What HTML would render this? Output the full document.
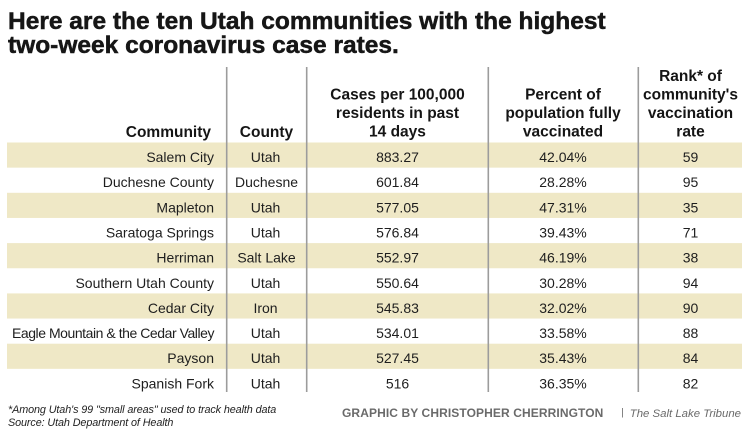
<!DOCTYPE html>
<html><head><meta charset="utf-8"><style>
html,body{margin:0;padding:0;background:#fff;}
svg{display:block;}
.t{font-family:"Liberation Sans",Arial,sans-serif;font-weight:bold;font-size:24.5px;fill:#161616;stroke:#161616;stroke-width:0.5px;}
.h{font-family:"Liberation Sans",Arial,sans-serif;font-weight:bold;font-size:15.5px;fill:#151515;}
.d{font-family:"Liberation Sans",Arial,sans-serif;font-size:14px;fill:#1e1e1e;}
.f{font-family:"Liberation Sans",Arial,sans-serif;font-style:italic;font-size:10.8px;fill:#222;letter-spacing:-0.1px;}
.g{font-family:"Liberation Sans",Arial,sans-serif;font-weight:bold;font-size:12px;fill:#6a6a6a;letter-spacing:0.1px;}
.s{font-family:"Liberation Sans",Arial,sans-serif;font-style:italic;font-size:11.4px;fill:#6a6a6a;}
</style></head><body>
<svg width="750" height="435" viewBox="0 0 750 435" xmlns="http://www.w3.org/2000/svg">
<rect width="750" height="435" fill="#fff"/>
<text class="t" x="8" y="29">Here are the ten Utah communities with the highest</text>
<text class="t" x="8" y="53">two-week coronavirus case rates.</text>

<!-- bands -->
<g fill="#efe8c6">
<rect x="7" y="142.5" width="735" height="25.15"/>
<rect x="7" y="192.8" width="735" height="25.15"/>
<rect x="7" y="243.1" width="735" height="25.15"/>
<rect x="7" y="293.4" width="735" height="25.15"/>
<rect x="7" y="343.7" width="735" height="25.15"/>
</g>

<!-- vertical lines -->
<g stroke="#9c9c9c" stroke-width="1.6">
<line x1="226.7" y1="67" x2="226.7" y2="392"/>
<line x1="306.7" y1="67" x2="306.7" y2="392"/>
<line x1="488.3" y1="67" x2="488.3" y2="392"/>
<line x1="638.3" y1="67" x2="638.3" y2="392"/>
</g>

<!-- headers -->
<text class="h" x="211" y="137" text-anchor="end">Community</text>
<text class="h" x="266.5" y="137" text-anchor="middle">County</text>
<text class="h" x="397.5" y="99.5" text-anchor="middle">Cases per 100,000</text>
<text class="h" x="397.5" y="118" text-anchor="middle">residents in past</text>
<text class="h" x="397.5" y="136.5" text-anchor="middle">14 days</text>
<text class="h" x="563" y="99.5" text-anchor="middle">Percent of</text>
<text class="h" x="563" y="118" text-anchor="middle">population fully</text>
<text class="h" x="563" y="136.5" text-anchor="middle">vaccinated</text>
<text class="h" x="690.5" y="81" text-anchor="middle">Rank* of</text>
<text class="h" x="690.5" y="99.5" text-anchor="middle">community's</text>
<text class="h" x="690.5" y="118" text-anchor="middle">vaccination</text>
<text class="h" x="690.5" y="136.5" text-anchor="middle">rate</text>

<!-- rows -->
<g class="d">
<text x="214" y="162" text-anchor="end">Salem City</text>
<text x="214" y="187.15" text-anchor="end">Duchesne County</text>
<text x="214" y="212.3" text-anchor="end">Mapleton</text>
<text x="214" y="237.45" text-anchor="end">Saratoga Springs</text>
<text x="214" y="262.6" text-anchor="end">Herriman</text>
<text x="214" y="287.75" text-anchor="end">Southern Utah County</text>
<text x="214" y="312.9" text-anchor="end">Cedar City</text>
<text x="214" y="338.05" text-anchor="end" style="letter-spacing:-0.45px">Eagle Mountain &amp; the Cedar Valley</text>
<text x="214" y="363.2" text-anchor="end">Payson</text>
<text x="214" y="388.35" text-anchor="end">Spanish Fork</text>
</g>
<g class="d" text-anchor="middle">
<text x="265.5" y="162">Utah</text>
<text x="266.5" y="187.15">Duchesne</text>
<text x="265.5" y="212.3">Utah</text>
<text x="265.5" y="237.45">Utah</text>
<text x="266.5" y="262.6">Salt Lake</text>
<text x="265.5" y="287.75">Utah</text>
<text x="265.5" y="312.9">Iron</text>
<text x="265.5" y="338.05">Utah</text>
<text x="265.5" y="363.2">Utah</text>
<text x="265.5" y="388.35">Utah</text>
</g>
<g class="d" text-anchor="middle">
<text x="397.5" y="162">883.27</text>
<text x="397.5" y="187.15">601.84</text>
<text x="397.5" y="212.3">577.05</text>
<text x="397.5" y="237.45">576.84</text>
<text x="397.5" y="262.6">552.97</text>
<text x="397.5" y="287.75">550.64</text>
<text x="397.5" y="312.9">545.83</text>
<text x="397.5" y="338.05">534.01</text>
<text x="397.5" y="363.2">527.45</text>
<text x="397.5" y="388.35">516</text>
</g>
<g class="d" text-anchor="middle">
<text x="563" y="162">42.04%</text>
<text x="563" y="187.15">28.28%</text>
<text x="563" y="212.3">47.31%</text>
<text x="563" y="237.45">39.43%</text>
<text x="563" y="262.6">46.19%</text>
<text x="563" y="287.75">30.28%</text>
<text x="563" y="312.9">32.02%</text>
<text x="563" y="338.05">33.58%</text>
<text x="563" y="363.2">35.43%</text>
<text x="563" y="388.35">36.35%</text>
</g>
<g class="d" text-anchor="middle">
<text x="690.5" y="162">59</text>
<text x="690.5" y="187.15">95</text>
<text x="690.5" y="212.3">35</text>
<text x="690.5" y="237.45">71</text>
<text x="690.5" y="262.6">38</text>
<text x="690.5" y="287.75">94</text>
<text x="690.5" y="312.9">90</text>
<text x="690.5" y="338.05">88</text>
<text x="690.5" y="363.2">84</text>
<text x="690.5" y="388.35">82</text>
</g>

<!-- footer -->
<text class="f" x="8" y="413">*Among Utah's 99 "small areas" used to track health data</text>
<text class="f" x="8" y="426">Source: Utah Department of Health</text>
<text class="g" x="342" y="417">GRAPHIC BY CHRISTOPHER CHERRINGTON</text>
<line x1="622.5" y1="408" x2="622.5" y2="417.5" stroke="#777" stroke-width="0.9"/>
<text class="s" x="741" y="417" text-anchor="end">The Salt Lake Tribune</text>
</svg>
</body></html>
